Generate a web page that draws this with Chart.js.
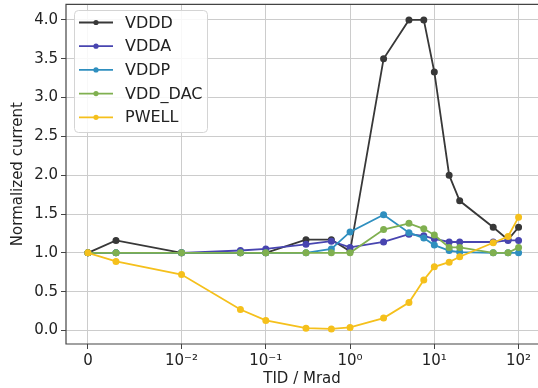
<!DOCTYPE html>
<html>
<head>
<meta charset="utf-8">
<script src="https://cdn.jsdelivr.net/npm/chart.js@4"></script>
<style>
  html, body { margin: 0; padding: 0; background: #fff; overflow: hidden; }
  canvas { display: block; }
</style>
</head>
<body>
<canvas id="chart" width="538" height="388"></canvas>
<script>
// datos
const tid = [0, 0.003, 0.01, 0.05, 0.1, 0.3, 0.6, 1, 2.5, 5, 7.5, 10, 15, 20, 50, 75, 100];
const vddd = [1.0, 1.16, 1.0, 1.0, 1.0, 1.17, 1.17, 1.02, 3.5, 4.0, 4.0, 3.33, 2.0, 1.67, 1.33, 1.17, 1.33];
const vdda = [1.0, 1.0, 1.0, 1.03, 1.05, 1.11, 1.15, 1.07, 1.14, 1.24, 1.22, 1.18, 1.14, 1.14, 1.14, 1.16, 1.16];
const vddp = [1.0, 1.0, 1.0, 1.0, 1.0, 1.0, 1.05, 1.27, 1.49, 1.26, 1.19, 1.10, 1.03, 1.01, 1.0, 1.0, 1.0];
const vddDac = [1.0, 1.0, 1.0, 1.0, 1.0, 1.0, 1.0, 1.0, 1.30, 1.38, 1.31, 1.23, 1.07, 1.07, 1.0, 1.0, 1.07];
const pwell = [1.0, 0.89, 0.72, 0.27, 0.13, 0.03, 0.02, 0.04, 0.16, 0.36, 0.65, 0.82, 0.88, 0.95, 1.13, 1.21, 1.46];

const seriesNames = ['VDDD', 'VDDA', 'VDDP', 'VDD_DAC', 'PWELL'];
const seriesColors = ['#383838', '#4845b0', '#2f8fbf', '#80b050', '#f5c01c'];

const xTicks = [0, 0.01, 0.1, 1, 10, 100];
const xTickLabels = ['0', '10⁻²', '10⁻¹', '10⁰', '10¹', '10²'];
const yTicks = [0, 0.5, 1, 1.5, 2, 2.5, 3, 3.5, 4];

const FONT = 'DejaVu Sans';

// escala symlog (como matplotlib, linthresh = 0.01)
const LT = 0.01, LS = 1 / (1 - 1 / 10);
function symT(v) {
    const a = Math.abs(v);
    return a <= LT ? v / LT * LS : Math.sign(v) * (LS + Math.log10(a / LT));
}
function symInv(t) {
    const a = Math.abs(t);
    return a <= LS ? t / LS * LT : Math.sign(t) * LT * Math.pow(10, a - LS);
}

class SymlogScale extends Chart.LinearScale {
    buildTicks() {
        return xTicks.map(v => ({ value: v }));
    }
    configure() {
        super.configure();
        this._tMin = symT(this.min);
        this._tMax = symT(this.max);
    }
    getPixelForValue(v) {
        return this.getPixelForDecimal((symT(v) - this._tMin) / (this._tMax - this._tMin));
    }
    getValueForPixel(p) {
        return symInv(this._tMin + this.getDecimalForPixel(p) * (this._tMax - this._tMin));
    }
}
SymlogScale.id = 'symlog';
SymlogScale.defaults = {};
Chart.register(SymlogScale);

// el area llega hasta el borde derecho del canvas (la imagen esta recortada)
const fullWidthPlugin = {
    id: 'fullWidth',
    afterLayout(chart) {
        const x = chart.scales.x;
        const area = chart.chartArea;
        x.right = chart.width;
        x.width = x.right - x.left;
        area.right = chart.width;
        area.width = area.right - area.left;
        x.configure();
    }
};

// marco (sin lado derecho) y leyenda
const framePlugin = {
    id: 'frame',
    afterDraw(chart) {
        const { ctx, chartArea: a } = chart;
        ctx.save();
        ctx.strokeStyle = '#444';
        ctx.lineWidth = 1.2;
        ctx.beginPath();
        ctx.moveTo(a.right + 2, a.top);
        ctx.lineTo(a.left, a.top);
        ctx.lineTo(a.left, a.bottom);
        ctx.lineTo(a.right + 2, a.bottom);
        ctx.stroke();

        // leyenda
        const bx = 74, by = 10, bw = 133, bh = 122, r = 4;
        ctx.beginPath();
        ctx.roundRect(bx + 0.5, by + 0.5, bw, bh, r);
        ctx.fillStyle = 'rgba(255,255,255,0.85)';
        ctx.fill();
        ctx.strokeStyle = '#d4d4d4';
        ctx.lineWidth = 1;
        ctx.stroke();

        ctx.font = '16px "' + FONT + '"';
        ctx.textBaseline = 'middle';
        chart.data.datasets.forEach((ds, i) => {
            const y = 22.5 + i * 23.7;
            ctx.strokeStyle = ds.borderColor;
            ctx.lineWidth = 1.8;
            ctx.beginPath();
            ctx.moveTo(79, y);
            ctx.lineTo(113, y);
            ctx.stroke();
            ctx.fillStyle = ds.borderColor;
            ctx.beginPath();
            ctx.arc(96, y, 2.6, 0, Math.PI * 2);
            ctx.fill();
            ctx.fillStyle = '#222';
            ctx.fillText(ds.label, 125, y + 1);
        });
        ctx.restore();
    }
};

const allSeries = [vddd, vdda, vddp, vddDac, pwell];

const datasets = allSeries.map((vals, i) => ({
    label: seriesNames[i],
    data: tid.map((x, k) => ({ x: x, y: vals[k] })),
    borderColor: seriesColors[i],
    backgroundColor: seriesColors[i],
    borderWidth: 1.8,
    pointRadius: 2.6,
    pointHoverRadius: 2.6,
    tension: 0,
    order: allSeries.length - i   // el ultimo queda encima, como en matplotlib
}));

const ctx = document.getElementById('chart').getContext('2d');

const chart = new Chart(ctx, {
    type: 'line',
    data: { datasets: datasets },
    options: {
        responsive: false,
        animation: false,
        events: [],
        layout: { padding: { top: 2, right: 0, left: 0, bottom: 0 } },
        plugins: {
            legend: { display: false },
            tooltip: { enabled: false }
        },
        scales: {
            x: {
                type: 'symlog',
                min: -0.00234,
                max: 170,
                afterFit: s => { s.height = 44; s.paddingLeft = 0; s.paddingRight = 0; },
                grid: { color: '#cccccc', lineWidth: 1, tickColor: '#444', tickLength: 5 },
                border: { display: false },
                ticks: {
                    color: '#222',
                    font: { family: FONT, size: 15 },
                    padding: 3,
                    maxRotation: 0,
                    autoSkip: false,
                    callback: (v) => xTickLabels[xTicks.indexOf(v)]
                },
                title: {
                    display: true,
                    text: 'TID / Mrad',
                    color: '#222',
                    font: { family: FONT, size: 15 },
                    padding: 0
                }
            },
            y: {
                type: 'linear',
                min: -0.174,
                max: 4.2,
                afterBuildTicks: s => { s.ticks = yTicks.map(v => ({ value: v })); },
                afterFit: s => { s.width = 66; s.paddingTop = 0; s.paddingBottom = 0; },
                grid: { color: '#cccccc', lineWidth: 1, tickColor: '#444', tickLength: 5 },
                border: { display: false },
                ticks: {
                    color: '#222',
                    font: { family: FONT, size: 15 },
                    padding: 3,
                    callback: (v) => v.toFixed(1)
                },
                title: {
                    display: true,
                    text: 'Normalized current',
                    color: '#222',
                    font: { family: FONT, size: 15 },
                    padding: { top: 9, bottom: 0 }
                }
            }
        }
    },
    plugins: [fullWidthPlugin, framePlugin]
});
</script>
</body>
</html>
